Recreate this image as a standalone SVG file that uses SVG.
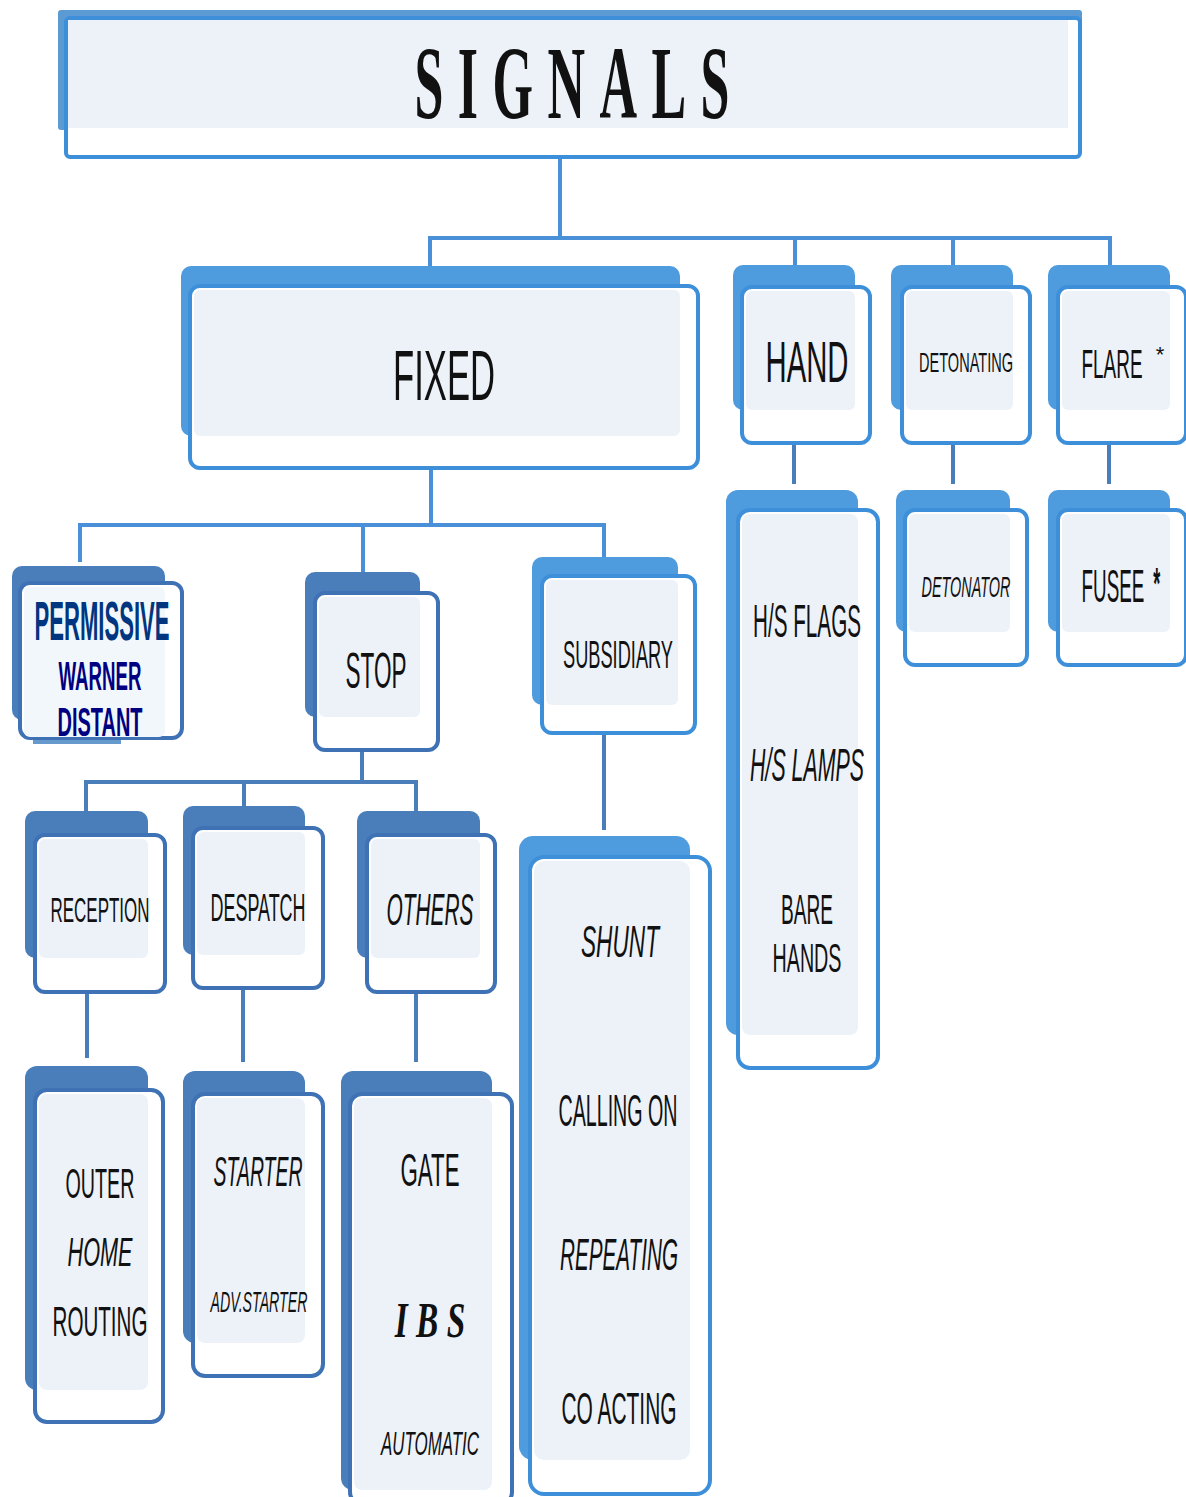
<svg xmlns="http://www.w3.org/2000/svg" width="1186" height="1497" viewBox="0 0 1186 1497">
<style>
.bk{fill:#4E9BDD}
.bkd{fill:#4A7EBB}
.fr{fill:#ffffff;stroke:#3D8FDA;stroke-width:4}
.frd{fill:#ffffff;stroke:#3E72B5;stroke-width:4}
.in{fill:#EDF2F9}
.ln{stroke:#4A90D9;stroke-width:4;fill:none}
.lnd{stroke:#4A7EBB;stroke-width:4;fill:none}
text{font-family:"Liberation Sans",Arial,sans-serif;fill:#111;text-anchor:middle}
.it{font-style:italic}
</style>
<rect width="1186" height="1497" fill="#ffffff"/>
<g id="connectors">
<path class="ln" d="M560 158V238M430 238H1110M430 236V268M795 236V266M953 236V266M1110 236V266"/>
<path class="ln" d="M431 468V525M80 525H604M80 523V562M363 523V574M604 523V560"/>
<path class="lnd" d="M362 750V782M86 782H416M86 780V812M244 780V808M416 780V812"/>
<path class="lnd" d="M87 992V1058M243 988V1062M416 992V1062"/>
<path class="lnd" d="M604 733V830"/>
<path class="lnd" d="M794 443V484M953 443V484M1109 443V484"/>
</g>
<g id="signals">
<rect x="58" y="10" width="1024" height="120" rx="3" fill="#5C9AD3"/>
<rect x="66" y="18" width="1014" height="139" rx="4" class="fr"/>
<rect x="68" y="20" width="1000" height="108" class="in"/>
<text transform="translate(572 118) scale(0.5 1)" x="0" y="0" font-weight="bold" font-size="104" textLength="630" lengthAdjust="spacing" style="font-family:'Liberation Serif',serif">SIGNALS</text>
</g>
<g id="fixed">
<rect x="181" y="266" width="499" height="170" rx="10" class="bk"/>
<rect x="190" y="286" width="508" height="182" rx="10" class="fr"/>
<rect x="194" y="290" width="486" height="146" rx="6" class="in"/>
<text transform="translate(444 400) scale(0.5 1)" font-size="70" textLength="204" lengthAdjust="spacingAndGlyphs">FIXED</text>
</g>
<g id="hand">
<rect x="733" y="265" width="122" height="145" rx="10" class="bk"/>
<rect x="742" y="287" width="128" height="156" rx="10" class="fr"/>
<rect x="746" y="291" width="109" height="119" rx="6" class="in"/>
<text transform="translate(807 382) scale(0.5 1)" font-size="57" textLength="166" lengthAdjust="spacingAndGlyphs">HAND</text>
</g>
<g id="detonating">
<rect x="891" y="265" width="122" height="145" rx="10" class="bk"/>
<rect x="902" y="287" width="128" height="156" rx="10" class="fr"/>
<rect x="906" y="291" width="107" height="119" rx="6" class="in"/>
<text transform="translate(966 372) scale(0.5 1)" font-size="27" textLength="188" lengthAdjust="spacingAndGlyphs">DETONATING</text>
</g>
<g id="flare">
<rect x="1048" y="265" width="122" height="145" rx="10" class="bk"/>
<rect x="1058" y="287" width="128" height="156" rx="10" class="fr"/>
<rect x="1062" y="291" width="108" height="119" rx="6" class="in"/>
<text transform="translate(1112 378) scale(0.5 1)" font-size="41" textLength="122" lengthAdjust="spacingAndGlyphs">FLARE</text>
<text x="1160" y="362" font-size="22">*</text>
</g>
<g id="hs">
<rect x="726" y="490" width="132" height="545" rx="12" class="bk"/>
<rect x="738" y="510" width="140" height="558" rx="12" class="fr"/>
<rect x="742" y="514" width="116" height="521" rx="8" class="in"/>
<text transform="translate(807 637) scale(0.5 1)" font-size="46" textLength="216" lengthAdjust="spacingAndGlyphs">H/S FLAGS</text>
<text transform="translate(807 781) scale(0.5 1)" font-size="46" class="it" textLength="228" lengthAdjust="spacingAndGlyphs">H/S LAMPS</text>
<text transform="translate(807 924) scale(0.5 1)" font-size="43" textLength="104" lengthAdjust="spacingAndGlyphs">BARE</text>
<text transform="translate(807 972) scale(0.5 1)" font-size="40" textLength="138" lengthAdjust="spacingAndGlyphs">HANDS</text>
</g>
<g id="detonator">
<rect x="896" y="490" width="114" height="142" rx="10" class="bk"/>
<rect x="905" y="510" width="122" height="155" rx="10" class="fr"/>
<rect x="909" y="514" width="101" height="118" rx="6" class="in"/>
<text transform="translate(966 597) scale(0.5 1)" font-size="30" class="it" textLength="178" lengthAdjust="spacingAndGlyphs">DETONATOR</text>
</g>
<g id="fusee">
<rect x="1048" y="490" width="122" height="142" rx="10" class="bk"/>
<rect x="1058" y="510" width="128" height="155" rx="10" class="fr"/>
<rect x="1062" y="514" width="108" height="118" rx="6" class="in"/>
<text transform="translate(1113 602) scale(0.41 1)" font-size="46">FUSEE<tspan x="107" y="-3" font-size="44" font-weight="bold">*</tspan></text>
</g>
<g id="permissive">
<rect x="12" y="566" width="153" height="154" rx="10" class="bkd"/>
<rect x="33" y="732" width="88" height="12" fill="#6699CC"/>
<rect x="20" y="583" width="162" height="155" rx="10" class="frd"/>
<rect x="24" y="587" width="141" height="150" rx="6" fill="#F2F7FC"/>
<text transform="translate(102 640) scale(0.5 1)" font-size="56" font-weight="bold" style="fill:#003580" textLength="270" lengthAdjust="spacingAndGlyphs">PERMISSIVE</text>
<text transform="translate(100 690) scale(0.5 1)" font-size="41" font-weight="bold" style="fill:#000080" textLength="166" lengthAdjust="spacingAndGlyphs">WARNER</text>
<text transform="translate(100 736) scale(0.5 1)" font-size="41" font-weight="bold" style="fill:#000080" textLength="170" lengthAdjust="spacingAndGlyphs">DISTANT</text>
</g>
<g id="stop">
<rect x="305" y="572" width="115" height="145" rx="10" class="bkd"/>
<rect x="315" y="593" width="123" height="157" rx="10" class="frd"/>
<rect x="319" y="597" width="101" height="120" rx="6" class="in"/>
<text transform="translate(376 688) scale(0.5 1)" font-size="50" textLength="122" lengthAdjust="spacingAndGlyphs">STOP</text>
</g>
<g id="subsidiary">
<rect x="532" y="557" width="146" height="148" rx="10" class="bk"/>
<rect x="542" y="576" width="153" height="157" rx="10" class="fr"/>
<rect x="546" y="580" width="132" height="125" rx="6" class="in"/>
<text transform="translate(618 668) scale(0.5 1)" font-size="38" textLength="220" lengthAdjust="spacingAndGlyphs">SUBSIDIARY</text>
</g>
<g id="reception">
<rect x="25" y="811" width="123" height="147" rx="10" class="bkd"/>
<rect x="35" y="835" width="130" height="157" rx="10" class="frd"/>
<rect x="39" y="839" width="109" height="119" rx="6" class="in"/>
<text transform="translate(100 922) scale(0.5 1)" font-size="36" textLength="198" lengthAdjust="spacingAndGlyphs">RECEPTION</text>
</g>
<g id="despatch">
<rect x="183" y="806" width="122" height="149" rx="10" class="bkd"/>
<rect x="193" y="828" width="130" height="160" rx="10" class="frd"/>
<rect x="197" y="832" width="108" height="123" rx="6" class="in"/>
<text transform="translate(258 921) scale(0.5 1)" font-size="38" textLength="190" lengthAdjust="spacingAndGlyphs">DESPATCH</text>
</g>
<g id="others">
<rect x="357" y="811" width="123" height="147" rx="10" class="bkd"/>
<rect x="367" y="835" width="128" height="157" rx="10" class="frd"/>
<rect x="371" y="839" width="109" height="119" rx="6" class="in"/>
<text transform="translate(430 925) scale(0.5 1)" font-size="45" class="it" textLength="174" lengthAdjust="spacingAndGlyphs">OTHERS</text>
</g>
<g id="outer">
<rect x="25" y="1066" width="123" height="324" rx="12" class="bkd"/>
<rect x="35" y="1090" width="128" height="332" rx="12" class="frd"/>
<rect x="39" y="1094" width="109" height="296" rx="8" class="in"/>
<text transform="translate(100 1198) scale(0.5 1)" font-size="42" textLength="138" lengthAdjust="spacingAndGlyphs">OUTER</text>
<text transform="translate(100 1266) scale(0.5 1)" font-size="40" class="it" textLength="130" lengthAdjust="spacingAndGlyphs">HOME</text>
<text transform="translate(100 1336) scale(0.5 1)" font-size="42" textLength="190" lengthAdjust="spacingAndGlyphs">ROUTING</text>
</g>
<g id="starter">
<rect x="183" y="1071" width="122" height="272" rx="12" class="bkd"/>
<rect x="193" y="1094" width="130" height="282" rx="12" class="frd"/>
<rect x="197" y="1098" width="108" height="245" rx="8" class="in"/>
<text transform="translate(258 1186) scale(0.5 1)" font-size="43" class="it" textLength="178" lengthAdjust="spacingAndGlyphs">STARTER</text>
<text transform="translate(259 1312) scale(0.5 1)" font-size="29" class="it" textLength="194" lengthAdjust="spacingAndGlyphs">ADV.STARTER</text>
</g>
<g id="gate">
<rect x="341" y="1071" width="151" height="419" rx="12" class="bkd"/>
<rect x="350" y="1094" width="162" height="410" rx="12" class="frd"/>
<rect x="354" y="1098" width="138" height="392" rx="8" class="in"/>
<text transform="translate(430 1186) scale(0.5 1)" font-size="47" textLength="118" lengthAdjust="spacingAndGlyphs">GATE</text>
<text transform="translate(430 1337) scale(0.8 1)" font-size="50" font-weight="bold" class="it" textLength="88" lengthAdjust="spacingAndGlyphs" style="font-family:'Liberation Serif',serif">I B S</text>
<text transform="translate(430 1455) scale(0.5 1)" font-size="34" class="it" textLength="196" lengthAdjust="spacingAndGlyphs">AUTOMATIC</text>
</g>
<g id="shunt">
<rect x="519" y="836" width="171" height="624" rx="14" class="bk"/>
<rect x="530" y="857" width="180" height="637" rx="14" class="fr"/>
<rect x="534" y="861" width="156" height="599" rx="10" class="in"/>
<text transform="translate(620 957) scale(0.5 1)" font-size="44" class="it" textLength="156" lengthAdjust="spacingAndGlyphs">SHUNT</text>
<text transform="translate(618 1126) scale(0.5 1)" font-size="44" textLength="238" lengthAdjust="spacingAndGlyphs">CALLING ON</text>
<text transform="translate(619 1270) scale(0.5 1)" font-size="44" class="it" textLength="236" lengthAdjust="spacingAndGlyphs">REPEATING</text>
<text transform="translate(619 1424) scale(0.5 1)" font-size="44" textLength="230" lengthAdjust="spacingAndGlyphs">CO ACTING</text>
</g>
</svg>
